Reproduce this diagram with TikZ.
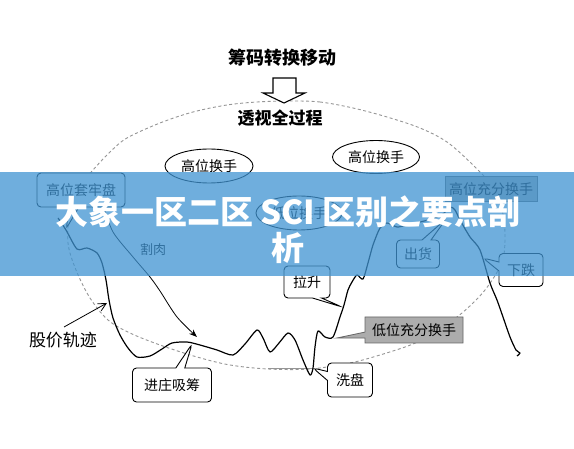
\documentclass[tikz,border=0pt]{standalone}
\usepackage{fontspec}
\setmainfont{Noto Sans CJK SC}
\usetikzlibrary{shapes.geometric,shapes.callouts,arrows.meta}
\definecolor{bannerblue}{RGB}{64,148,210}
\definecolor{boxgray}{RGB}{172,172,172}
\definecolor{ringgray}{RGB}{150,150,150}
\begin{document}
\begin{tikzpicture}[x=1pt,y=-1pt,
  bubble/.style={rectangle callout, draw=black, line width=0.9pt, fill=white,
    rounded corners=4pt, inner sep=0pt, callout pointer width=9pt,
    font=\fontsize{14}{14}\selectfont},
  oval/.style={ellipse, draw=black, line width=0.9pt, fill=white, inner sep=0pt,
    font=\fontsize{14}{14}\selectfont},
  graybox/.style={rectangle callout, draw=gray!80!black, line width=0.8pt, fill=boxgray,
    inner sep=0pt, callout pointer width=6pt, font=\fontsize{14}{14}\selectfont},
  plainbox/.style={rectangle, draw=gray!80!black, line width=0.8pt, fill=boxgray,
    inner sep=0pt, font=\fontsize{14}{14}\selectfont},
  ring/.style={draw=ringgray, line width=0.9pt, dash pattern=on 3pt off 2.5pt},
  price/.style={draw=black, line width=1.2pt, line join=round},
  headtxt/.style={font=\bfseries\fontsize{18}{18}\selectfont, inner sep=0pt}
]
\useasboundingbox (0,0) rectangle (574,449);
\fill[white] (0,0) rectangle (574,449);

% dashed ring
\draw[ring] plot[smooth cycle, tension=0.55] coordinates {
 (290,101) (320,102) (353,108) (387,117) (420,128) (447,142) (473,165) (492,186)
 (502,210) (505,235) (502,262) (485,290) (462,313) (435,332) (413,344) (380,355)
 (350,363) (310,369) (268,369) (230,365) (197,357) (160,345) (130,333) (108,320)
 (90,298) (76,270) (68,243) (70,212) (80,186) (93,170) (110,152) (127,138)
 (160,123) (193,112) (227,105) (257,102)};
\draw[ringgray, line width=1pt] (268,369) -- (312,369);

% hollow arrow and headings
\node[headtxt] (t1) at (282,58) {筹码转换移动};
\draw[line width=1.1pt, fill=white] (273,78) -- (296,78) -- (296,93) -- (305,93)
  -- (284,103) -- (263,93) -- (273,93) -- cycle;
\node[headtxt, font=\bfseries\fontsize{17}{17}\selectfont] (t2) at (280,118) {透视全过程};

% price trajectory
\draw[price] plot[smooth, tension=0.45] coordinates {
 (58,218) (66,230) (77,249) (87,248) (97,253) (102,263) (106,280) (109,300)
 (113,318) (120,335) (128,348) (137,357) (150,356) (162,349) (172,343) (187,342)
 (200,345) (217,350) (233,355) (245,344) (257,330) (263,338) (270,352) (279,343)
 (288,333) (295,340) (303,360) (310,375) (313,368) (315,347) (318,331) (325,337)
 (333,337) (340,317) (344,305) (348,290) (352,282) (357,275) (363,279) (368,263)
 (373,245) (380,228) (387,223) (397,227) (407,225) (420,222) (432,219) (443,214)
 (450,207) (455,210) (460,220) (470,237) (480,250) (490,283) (497,300) (503,317)
 (510,337) (516,350) (520,353) (517,356)};

% pointer targets
\coordinate (pgt) at (66,229);
\coordinate (pch) at (446,219);
\coordinate (pxd) at (483,258);
\coordinate (pls) at (342,307);
\coordinate (pxp) at (313,368);
\coordinate (pjz) at (192,344);
\coordinate (pdw) at (337,338);

% ovals
\node[oval, minimum width=88pt, minimum height=34pt] (e1) at (209,166) {高位换手};
\node[oval, minimum width=87pt, minimum height=33pt] (e2) at (376,157) {高位换手};
\node[oval, minimum width=86pt, minimum height=34pt] (e3) at (299,213) {低位换手};

% callouts
\node[bubble, minimum width=88pt, minimum height=34pt, callout absolute pointer={(pgt)}] (gt) at (81,190) {高位套牢盘};
\node[bubble, minimum width=43pt, minimum height=28pt, callout absolute pointer={(pch)}] (ch) at (418,254) {出货};
\node[bubble, minimum width=44pt, minimum height=33pt, callout absolute pointer={(pxd)}] (xd) at (521,270) {下跌};
\node[bubble, minimum width=46pt, minimum height=32pt, callout absolute pointer={(pls)}] (ls) at (307,282) {拉升};
\node[bubble, minimum width=45pt, minimum height=34pt, callout absolute pointer={(pxp)}] (xp) at (350,380) {洗盘};
\node[bubble, minimum width=79pt, minimum height=34pt, callout absolute pointer={(pjz)}] (jz) at (172,385) {进庄吸筹};
\node[graybox, minimum width=98pt, minimum height=26pt, callout absolute pointer={(pdw)}] (dw) at (414,330) {低位充分换手};
\node[plainbox, minimum width=92pt, minimum height=25pt] (gw) at (491,189) {高位充分换手};

% cut-loss arrow
\coordinate (gcut) at (197,337);
\draw[line width=0.8pt, -{Stealth[length=8pt,width=6pt]}] plot[smooth, tension=0.5] coordinates {
 (104,207) (113,232) (133,257) (150,277) (160,291) (177,317) (gcut)};
\node[font=\fontsize{13}{13}\selectfont, inner sep=0pt] (gr) at (153,250) {割肉};

% price label
\node[font=\fontsize{17}{17}\selectfont, inner sep=0pt] (gj) at (63,340) {股价轨迹};
\coordinate (gjs) at (64,327);
\coordinate (gjt) at (107,303);
\draw[line width=0.8pt, -{Straight Barb[length=8pt,width=8pt]}] (gjs) -- (gjt);

% banner
\fill[bannerblue, fill opacity=0.75] (0,172) rectangle (574,276);
\node[text=white, align=center, inner sep=0pt,
  font=\bfseries\fontsize{33}{36}\selectfont] (ttl) at (288,230)
  {大象一区二区 SCI 区别之要点剖\\析};
\end{tikzpicture}
\end{document}
